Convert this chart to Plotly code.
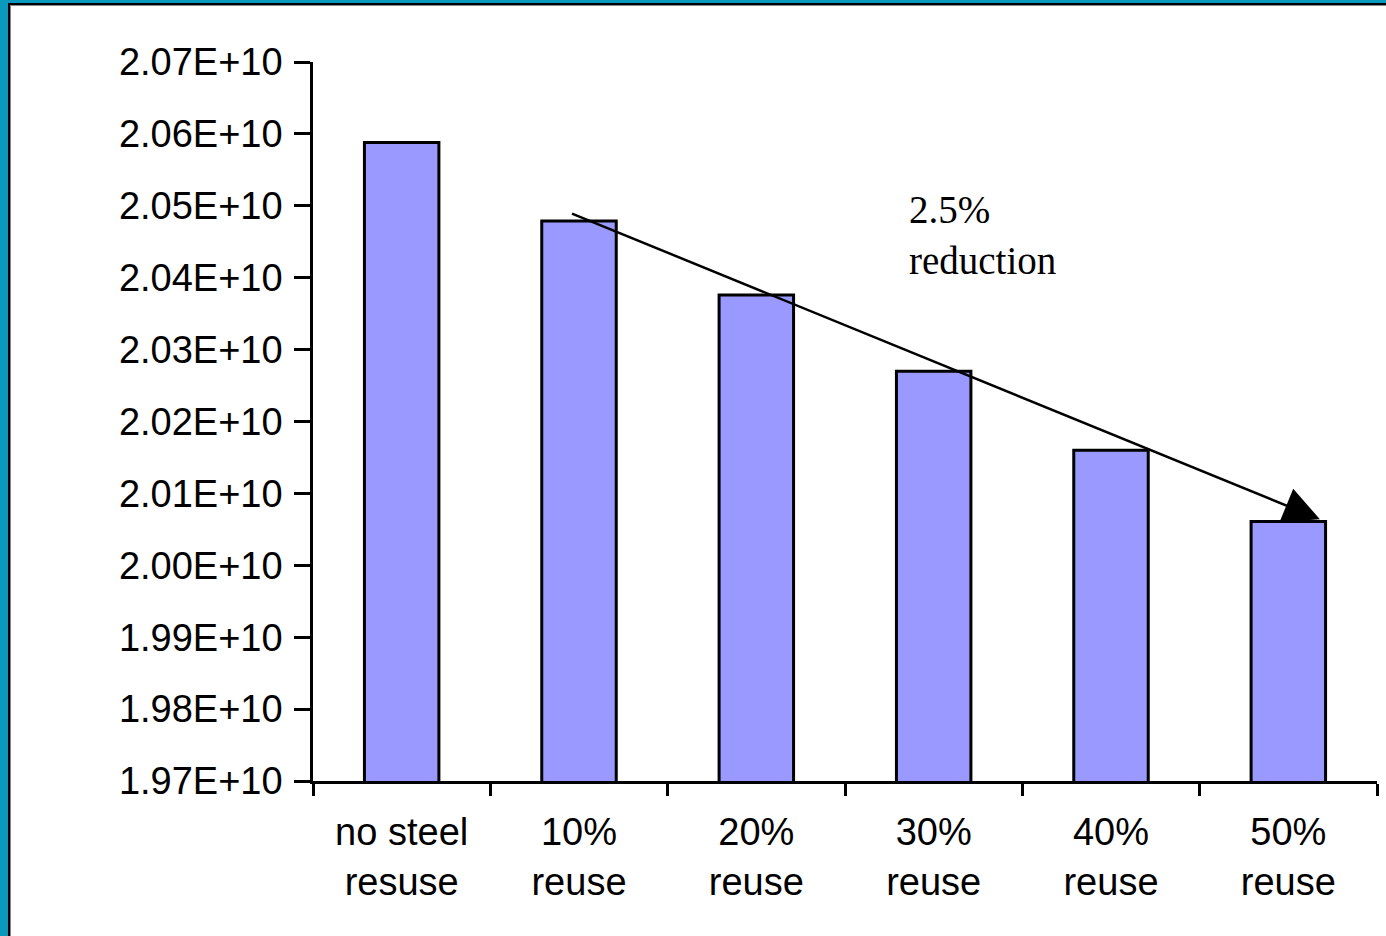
import plotly.graph_objects as go

# Data
categories = ["no steel<br>resuse", "10%<br>reuse", "20%<br>reuse",
              "30%<br>reuse", "40%<br>reuse", "50%<br>reuse"]
values = [2.0588e10, 2.0479e10, 2.0376e10, 2.0270e10, 2.0160e10, 2.0061e10]
y_ticks = [1.97e10 + i * 0.01e10 for i in range(11)]
y_ticktext = [f"{v:.2E}" for v in y_ticks]

# Trend arrow endpoints (category index, value)
arrow_start = (0.952, 2.0490e10)
arrow_end = (5.178, 2.0064e10)
note_text = "2.5%<br>reduction"
note_pos = (2.85, 2.0527e10)

W, H = 1386, 936
ML, MR, MT, MB = 313, 9, 62, 155
PW, PH = W - ML - MR, H - MT - MB


def px_x(p):
    return (p - ML) / PW


def px_y(p):
    return (H - MB - p) / PH


fig = go.Figure()
fig.add_trace(go.Bar(
    x=categories,
    y=values,
    base=0,
    width=0.42,
    marker=dict(color="#9999FF", line=dict(color="black", width=3)),
    hoverinfo="y",
))

fig.add_annotation(
    x=arrow_end[0], y=arrow_end[1], ax=arrow_start[0], ay=arrow_start[1],
    xref="x", yref="y", axref="x", ayref="y",
    showarrow=True, arrowhead=2, arrowsize=2.9, arrowwidth=2.5,
    arrowcolor="black", text="",
)
fig.add_annotation(
    x=note_pos[0], y=note_pos[1], xref="x", yref="y",
    text=note_text, showarrow=False, xanchor="left", yanchor="top",
    align="left",
    font=dict(family="Liberation Serif", size=39, color="black"),
)

# Frame bands along the top and left edges
bands = [
    (0, W, 0, 3, "#0A98BC"), (0, 8, 0, H, "#0A98BC"),
    (8, W, 3, 5, "black"), (8, 10, 3, H, "black"),
    (10, W, 5, 6, "#888888"), (10, 11, 5, H, "#888888"),
]
for x0, x1, y0, y1, c in bands:
    fig.add_shape(type="rect", xref="paper", yref="paper",
                  x0=px_x(x0), x1=px_x(x1), y0=px_y(y1), y1=px_y(y0),
                  fillcolor=c, line=dict(width=0), layer="above")

fig.update_layout(
    width=W, height=H,
    margin=dict(l=ML, r=MR, t=MT, b=MB, pad=0),
    paper_bgcolor="white", plot_bgcolor="white",
    showlegend=False,
    font=dict(family="Liberation Sans", size=38, color="black"),
    xaxis=dict(
        type="category",
        range=[-0.5, 5.5],
        tickson="boundaries",
        ticks="outside", ticklen=12, tickwidth=2.5, tickcolor="black",
        showline=True, linecolor="black", linewidth=2.5,
        showgrid=False, zeroline=False,
        ticklabelstandoff=16,
    ),
    yaxis=dict(
        range=[1.97e10, 2.07e10],
        tickmode="array", tickvals=y_ticks, ticktext=y_ticktext,
        ticks="outside", ticklen=16, tickwidth=2.5, tickcolor="black",
        showline=True, linecolor="black", linewidth=2.5,
        showgrid=False, zeroline=False,
        ticklabelstandoff=4,
    ),
)

fig.write_html("out.html")
